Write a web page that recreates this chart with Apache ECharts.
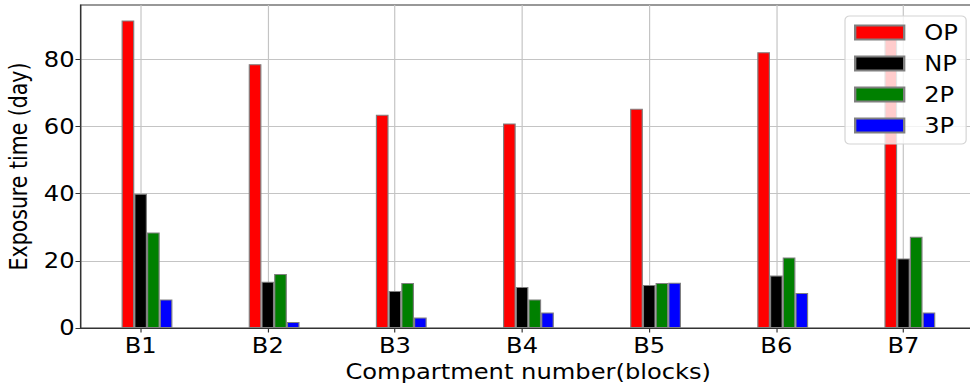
<!DOCTYPE html>
<html>
<head>
<meta charset="utf-8">
<script src="https://cdn.jsdelivr.net/npm/echarts@6/dist/echarts.min.js"></script>
<style>
  html, body { margin: 0; padding: 0; background: #fff; overflow: hidden; }
  #wrap { width: 970px; height: 388px; overflow: hidden; }
  #chart { height: 388px; transform-origin: 0 0; }
</style>
</head>
<body>
<div id="wrap"><div id="chart"></div></div>
<script>
// Compartment blocks along the x axis
const categories = ['B1', 'B2', 'B3', 'B4', 'B5', 'B6', 'B7'];
// Exposure time (days) for each phase condition
const opValues = [91.6, 78.5, 63.5, 60.9, 65.3, 82.1, 87.5];
const npValues = [40.0, 13.8, 11.0, 12.2, 12.8, 15.6, 20.7];
const twoPValues = [28.4, 16.1, 13.4, 8.5, 13.4, 21.0, 27.2];
const threePValues = [8.5, 1.8, 3.1, 4.6, 13.5, 10.4, 4.6];
const seriesNames = ['OP', 'NP', '2P', '3P'];
const yTicks = [0, 20, 40, 60, 80];

// The figure is drawn in a narrower frame and widened horizontally.
const STRETCH = 1.18;
const W = 970 / STRETCH;
const sx = px => px / STRETCH;   // screen px -> chart px (horizontal)

const chartEl = document.getElementById('chart');
chartEl.style.width = W + 'px';
chartEl.style.transform = 'scaleX(' + STRETCH + ')';

const FONT = 'DejaVu Sans';
const FS = 20.5;
const colors = ['#ff0000', '#000000', '#008000', '#0000ff'];
const groups = [opValues, npValues, twoPValues, threePValues];
const barStep = 0.1;            // bar width / spacing in category units
const xMin = -0.473, xMax = 6.57;
const gridLeft = sx(80.5), gridRight = sx(-6);
const pxPerUnit = (W - gridLeft - gridRight) / (xMax - xMin);

const series = groups.map((vals, k) => ({
  name: seriesNames[k],
  type: 'bar',
  barWidth: barStep * pxPerUnit,
  barGap: '-100%',
  itemStyle: { color: colors[k], borderColor: '#808080', borderWidth: 1 },
  data: vals.map((v, i) => [i + (k - 1) * barStep, v])
}));

const chart = echarts.init(chartEl, null, { renderer: 'svg' });
chart.setOption({
  animation: false,
  textStyle: { fontFamily: FONT },
  grid: {
    left: gridLeft, right: gridRight, top: 5, bottom: 60,
    outerBoundsMode: 'none',
    containLabel: false,
    show: true, borderColor: '#333', borderWidth: 1, backgroundColor: 'transparent'
  },
  legend: {
    orient: 'vertical',
    left: sx(845), top: 16,
    padding: [6, 7, 8, sx(9)],
    icon: 'rect',
    itemWidth: sx(49), itemHeight: 14, itemGap: 10,
    selectedMode: false,
    backgroundColor: 'rgba(255,255,255,0.8)',
    borderColor: '#d4d4d4', borderWidth: 1, borderRadius: 4,
    textStyle: { fontFamily: FONT, fontSize: FS, color: '#000', padding: [0, 0, 0, 12] },
    data: seriesNames
  },
  xAxis: {
    type: 'value',
    min: xMin, max: xMax,
    name: 'Compartment number(blocks)',
    nameLocation: 'middle', nameGap: 27,
    nameTextStyle: { fontFamily: FONT, fontSize: FS, color: '#000' },
    axisLine: { show: true, onZero: false, lineStyle: { color: '#333', width: 1 } },
    axisTick: { show: true, length: 4.5, lineStyle: { color: '#333' }, customValues: categories.map((_, i) => i) },
    axisLabel: {
      fontFamily: FONT, fontSize: FS, color: '#000', margin: 7,
      customValues: categories.map((_, i) => i),
      formatter: v => categories[Math.round(v)] || ''
    },
    splitLine: { show: true, lineStyle: { color: '#c4c4c4', width: 1 } }
  },
  yAxis: {
    type: 'value',
    min: 0, max: 96.18,
    name: 'Exposure time (day)',
    nameLocation: 'middle', nameGap: 37, nameRotate: 90,
    nameTextStyle: { fontFamily: FONT, fontSize: FS, color: '#000' },
    axisLine: { show: true, onZero: false, lineStyle: { color: '#333', width: 1 } },
    axisTick: { show: true, length: sx(5), lineStyle: { color: '#333' }, customValues: yTicks },
    axisLabel: { fontFamily: FONT, fontSize: FS, color: '#000', margin: 5, customValues: yTicks },
    splitLine: { show: true, lineStyle: { color: '#c4c4c4', width: 1 } }
  },
  series: series
});
</script>
</body>
</html>
